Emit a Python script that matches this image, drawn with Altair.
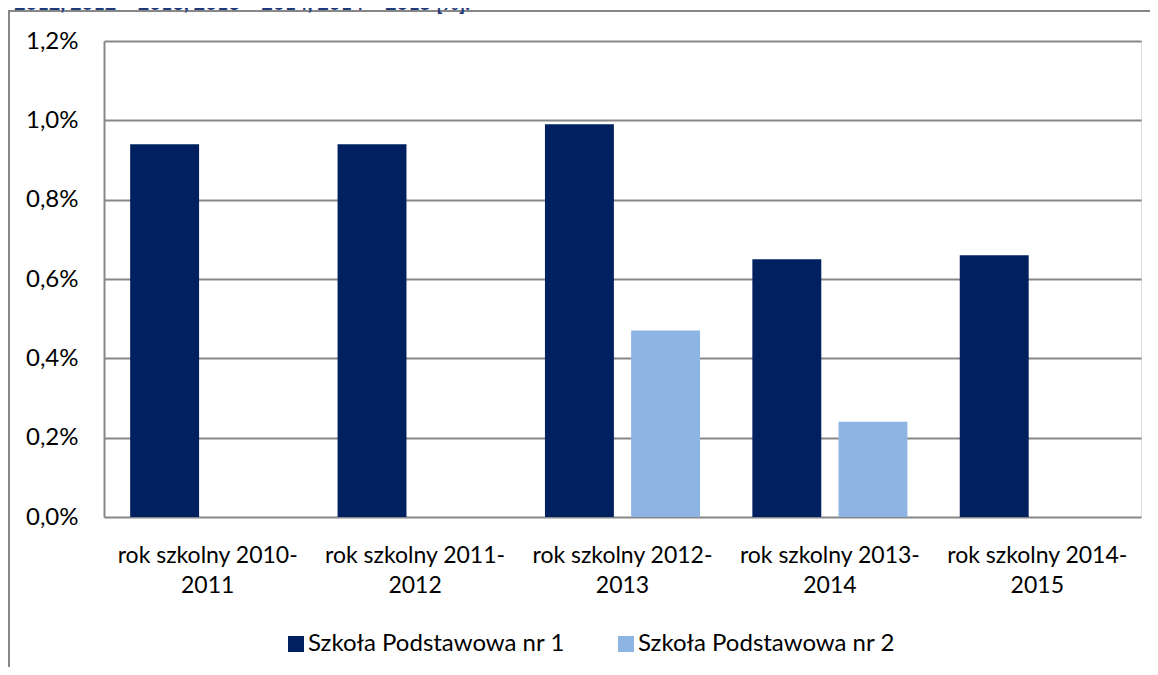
import altair as alt
import pandas as pd

categories = [
    "rok szkolny 2010-2011",
    "rok szkolny 2011-2012",
    "rok szkolny 2012-2013",
    "rok szkolny 2013-2014",
    "rok szkolny 2014-2015",
]
series = ["Szkoła Podstawowa nr 1", "Szkoła Podstawowa nr 2"]
sp1_values = [0.94, 0.94, 0.99, 0.65, 0.66]
sp2_values = [None, None, 0.47, 0.24, None]
y_ticks = [0.0, 0.2, 0.4, 0.6, 0.8, 1.0, 1.2]
colors = ["#002060", "#8EB4E3"]
title_text = "2012, 2012 – 2013, 2013 – 2014, 2014 – 2015 [%]."

rows = []
for cat, v1, v2 in zip(categories, sp1_values, sp2_values):
    rows.append({"rok": cat, "seria": series[0], "wartosc": v1})
    if v2 is not None:
        rows.append({"rok": cat, "seria": series[1], "wartosc": v2})
df = pd.DataFrame(rows)

W, H = 1037, 476
PAD = {"left": 96, "top": 33, "right": 9, "bottom": 150}
FONT = "Lato"
GRID = "#878787"

bars = alt.Chart(df).mark_bar().encode(
    x=alt.X(
        "rok:N",
        sort=categories,
        scale=alt.Scale(paddingInner=0, paddingOuter=0),
        axis=alt.Axis(
            title=None,
            labelAngle=0,
            domain=False,
            ticks=False,
            labelFont=FONT,
            labelFontSize=23,
            labelColor="#000000",
            labelPadding=27,
            labelLineHeight=30,
            labelBaseline="top",
            labelLimit=0,
            labelExpr="[substring(datum.label, 0, indexof(datum.label, '-') + 1), substring(datum.label, indexof(datum.label, '-') + 1)]",
        ),
    ),
    xOffset=alt.XOffset(
        "seria:N",
        sort=series,
        scale=alt.Scale(paddingInner=0.2, paddingOuter=0.3036),
    ),
    y=alt.Y(
        "wartosc:Q",
        scale=alt.Scale(domain=[0, 1.2], nice=False),
        axis=alt.Axis(
            title=None,
            values=y_ticks,
            labelExpr="replace(format(datum.value, '.1f'), '.', ',') + '%'",
            labelFont=FONT,
            labelFontSize=24,
            labelColor="#000000",
            labelPadding=26,
            ticks=False,
            domain=True,
            domainColor=GRID,
            domainWidth=2,
            grid=True,
            gridColor=GRID,
            gridWidth=2,
        ),
    ),
    color=alt.Color(
        "seria:N",
        sort=series,
        scale=alt.Scale(domain=series, range=colors),
        legend=alt.Legend(
            title=None,
            orient="none",
            direction="horizontal",
            legendX=180,
            legendY=591,
            symbolType="square",
            symbolSize=256,
            symbolStrokeWidth=0,
            labelFont=FONT,
            labelFontSize=24,
            labelColor="#000000",
            labelOffset=0,
            labelLimit=0,
            columnPadding=49,
        ),
    ),
)

frame_df = pd.DataFrame({"k": [0]})
frame_left = alt.Chart(frame_df).mark_rule(color=GRID, strokeWidth=2).encode(
    x=alt.value(-95),
    y=alt.value(-30),
    y2=alt.value(H + PAD["bottom"]),
)
frame_top = alt.Chart(frame_df).mark_rule(color=GRID, strokeWidth=2).encode(
    x=alt.value(-96),
    x2=alt.value(W + PAD["right"]),
    y=alt.value(-30),
)
title_df = pd.DataFrame({"t": [title_text]})
title = alt.Chart(title_df).mark_text(
    align="left",
    baseline="alphabetic",
    font=FONT,
    fontSize=20,
    fontWeight="bold",
    color="#1F3A78",
).encode(
    text="t:N",
    x=alt.value(-90),
    y=alt.value(-31),
)

chart = alt.layer(frame_left, frame_top, title, bars).properties(
    width=W,
    height=H,
    padding=PAD,
    autosize=alt.AutoSizeParams(type="none"),
).configure_view(stroke=None).configure(background="white")

chart.save("out.html", embed_options={"renderer": "svg", "actions": False})
